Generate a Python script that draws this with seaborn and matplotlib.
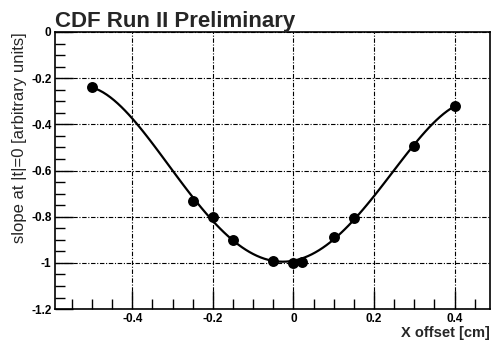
import seaborn as sns
import matplotlib.pyplot as plt
import pandas as pd
from matplotlib.ticker import MultipleLocator, FormatStrFormatter

x_offset = [-0.5, -0.25, -0.2, -0.15, -0.05, 0.0, 0.02, 0.1, 0.15, 0.3, 0.4]
slope = [-0.24, -0.73, -0.80, -0.90, -0.99, -1.0, -0.995, -0.888, -0.805, -0.494, -0.32]

df = pd.DataFrame({"x": x_offset, "slope": slope})

sns.set_style("ticks")
plt.rcParams['font.family'] = ['Liberation Sans', 'DejaVu Sans']
plt.rcParams['font.weight'] = 'bold'

fig = plt.figure(figsize=(4.91, 3.40), dpi=100)
ax = fig.add_axes([0.112, 0.091, 0.886, 0.815])

# smooth fit through the points, like the original curve
sns.regplot(data=df, x="x", y="slope", order=5, ci=None, truncate=True, ax=ax,
            color="black",
            scatter_kws={"s": 62, "color": "black", "alpha": 1, "zorder": 4, "linewidths": 0},
            line_kws={"lw": 1.6, "color": "black", "zorder": 3})

ax.set_xlim(-0.592, 0.488)
ax.set_ylim(-1.2, 0)

ax.xaxis.set_major_locator(MultipleLocator(0.2))
ax.xaxis.set_minor_locator(MultipleLocator(0.05))
ax.yaxis.set_major_locator(MultipleLocator(0.2))
ax.yaxis.set_minor_locator(MultipleLocator(0.05))
ax.xaxis.set_major_formatter(FormatStrFormatter('%g'))
ax.yaxis.set_major_formatter(FormatStrFormatter('%g'))

ax.tick_params(which='both', direction='in', top=False, right=False,
               labelsize=8.5, width=1, color='black', labelcolor='black')
ax.tick_params(which='major', length=13, pad=2.5)
ax.tick_params(which='minor', length=7)

ax.grid(True, which='major', color='black', linestyle=(0, (4, 1.5, 1, 1.5)), lw=0.8)

for s in ax.spines.values():
    s.set_visible(True)
    s.set_color('black')
    s.set_linewidth(1.2)

ax.set_xlabel("X offset [cm]", fontsize=10.5, fontweight='bold', loc='right', labelpad=1)
ax.set_ylabel("slope at |t|=0 [arbitrary units]", fontsize=12, fontweight='normal',
              loc='top', labelpad=3)
ax.set_title("CDF Run II Preliminary", fontsize=16, fontweight='bold', loc='left', pad=2)

fig.savefig("out.png", dpi=100)
